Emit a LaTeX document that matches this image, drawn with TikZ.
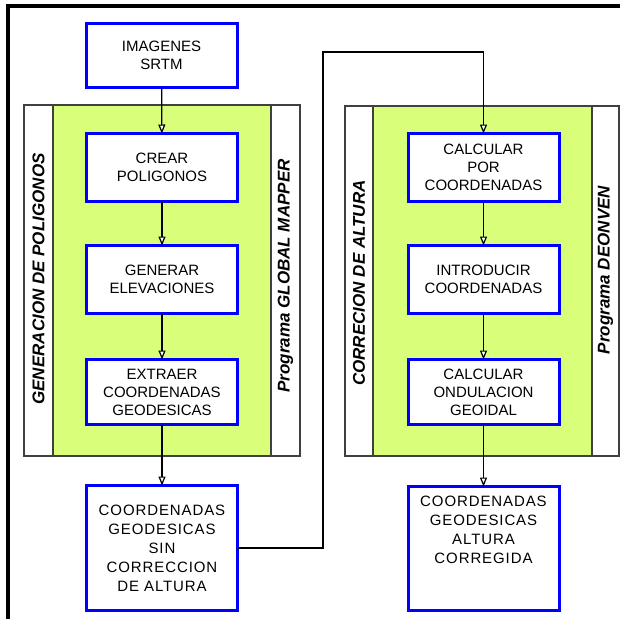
\documentclass[tikz,border=0pt]{standalone}
\usepackage{fontspec}
\setmainfont{Liberation Sans}
\usetikzlibrary{arrows.meta}
\definecolor{panelgreen}{RGB}{217,255,122}
\definecolor{boxblue}{RGB}{0,0,255}

\begin{document}
\begin{tikzpicture}[x=1pt,y=-1pt,inner sep=0pt,outer sep=0pt,
    proc/.style={draw=boxblue,line width=3pt,fill=white,minimum width=151pt,
      align=center,font=\fontsize{15}{18}\selectfont},
    result/.style={proc,font=\fontsize{15}{19}\selectfont\addfontfeatures{LetterSpace=6}},
    side/.style={rotate=90,font=\fontsize{17}{19}\selectfont\bfseries\itshape},
    flow/.style={draw,line width=1.2pt,-{Triangle[open,fill=white,length=9pt,width=7pt,line width=1.2pt]}},
    panel/.style={draw=black!75,line width=1.3pt}]
    \useasboundingbox (0,0) rectangle (620,619);
    % frame
    \draw[line width=4pt] (8,619) -- (8,6) -- (620,6);

    % panels
    \fill[panelgreen] (53,105) rectangle (271,456);
    \draw[panel] (24,105) rectangle (300,456) (53,105) -- (53,456) (271,105) -- (271,456);
    \fill[panelgreen] (373,106) rectangle (592,456);
    \draw[panel] (345,106) rectangle (619,456) (373,106) -- (373,456) (592,106) -- (592,456);

    \node[side] (genpol) at (38.5,279) {GENERACION DE POLIGONOS};
    \node[side] (gmapper) at (285.5,276) {Programa GLOBAL MAPPER};
    \node[side] (coralt) at (359,283) {CORRECION DE ALTURA};
    \node[side] (deonven) at (605.5,270) {Programa DEONVEN};

    % left column
    \node[proc,minimum height=64pt] (srtm) at (161.5,55.5) {IMAGENES\\SRTM};
    \node[proc,minimum height=68pt] (crear) at (162,167.5) {CREAR\\POLIGONOS};
    \node[proc,minimum height=68pt] (generar) at (162,279.5) {GENERAR\\ELEVACIONES};
    \node[proc,minimum height=65pt] (extraer) at (162,392) {EXTRAER\\COORDENADAS\\GEODESICAS};
    \node[result,minimum height=125pt] (coordsin) at (162,548)
    {COORDENADAS\\GEODESICAS\\SIN\\CORRECCION\\DE ALTURA};

    % right column
    \node[proc,minimum height=68pt] (calcpor) at (483.5,167.5) {CALCULAR\\POR\\COORDENADAS};
    \node[proc,minimum height=68pt] (intro) at (483.5,279.5) {INTRODUCIR\\COORDENADAS};
    \node[proc,minimum height=65pt] (ondul) at (483.5,392) {CALCULAR\\ONDULACION\\GEOIDAL};
    \node[result,minimum height=124pt] (coordcor) at (483.5,548.5)
    {COORDENADAS\\GEODESICAS\\ALTURA\\CORREGIDA\\[19pt]};

    % connectors
    \draw[flow] (srtm) -- (crear);
    \draw[flow] (crear) -- (generar);
    \draw[flow] (generar) -- (extraer);
    \draw[flow] (extraer) -- (coordsin);
    \coordinate (turn) at (323,52);
    \draw[flow] (coordsin.east) -| (turn) -| (calcpor.north);
    \draw[flow] (calcpor) -- (intro);
    \draw[flow] (intro) -- (ondul);
    \draw[flow] (ondul) -- (coordcor);
\end{tikzpicture}
\end{document}
